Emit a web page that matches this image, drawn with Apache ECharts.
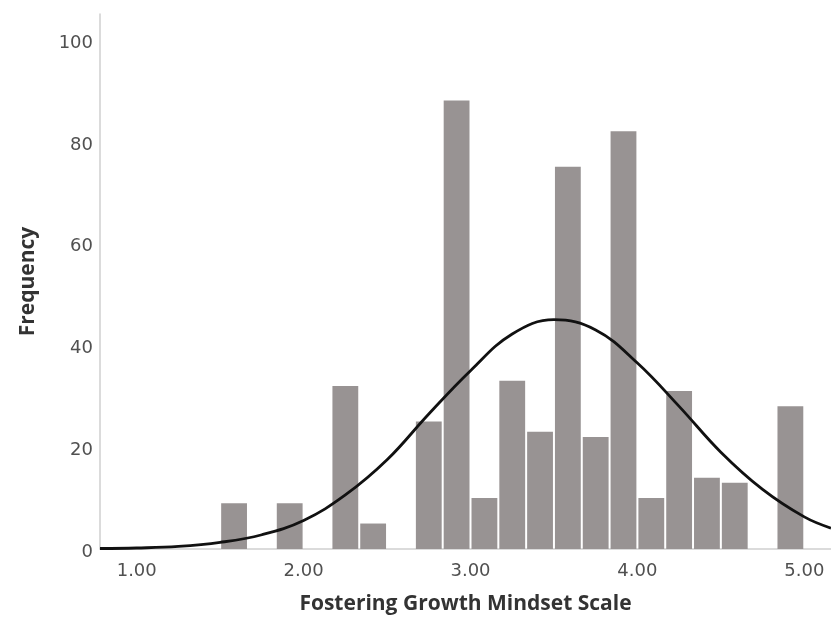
<!DOCTYPE html>
<html>
<head>
<meta charset="utf-8">
<script src="https://cdn.jsdelivr.net/npm/echarts@6/dist/echarts.min.js"></script>
<style>
  html, body { margin: 0; padding: 0; background: #ffffff; }
  #chart { width: 831px; height: 623px; }
</style>
</head>
<body>
<div id="chart"></div>
<script>
// Histogram bins: lower edge of each bin (bin width 1/6 of a scale point)
const binStarts = [1.5, 1.8333, 2.1667, 2.3333, 2.6667, 2.8333, 3.0, 3.1667, 3.3333,
                   3.5, 3.6667, 3.8333, 4.0, 4.1667, 4.3333, 4.5, 4.8333];
const binWidth = 0.16667;
const frequencies = [9, 9, 32, 5, 25, 88, 10, 33, 23, 75, 22, 82, 10, 31, 14, 13, 28];

// Fitted normal curve, sampled along the scale
const curveX = [0.78, 1.0, 1.25, 1.5, 1.75, 2.0, 2.25, 2.5, 2.75, 3.0, 3.25, 3.5,
                3.75, 4.0, 4.25, 4.5, 4.75, 5.0, 5.16];
const curveY = [0.1, 0.2, 0.5, 1.3, 2.8, 5.6, 10.6, 17.5, 26.5, 35, 42.2, 45,
                43, 36.5, 28, 19, 11.7, 6.3, 4.1];

// Axis tick labels
const xTicks = [1, 2, 3, 4, 5];
const yTicks = [0, 20, 40, 60, 80, 100];

const barData = binStarts.map((s, i) => [s, s + binWidth, frequencies[i]]);
const curveData = curveX.map((x, i) => [x, curveY[i]]);

const chart = echarts.init(document.getElementById('chart'), null, { renderer: 'canvas' });

const tickFont = { fontFamily: 'DejaVu Sans', fontSize: 18, color: '#505050' };
const titleFont = { fontFamily: 'Open Sans', fontWeight: 'bold', fontSize: 21, color: '#333333' };

chart.setOption({
  animation: false,
  backgroundColor: '#ffffff',
  grid: { left: 100, right: 0, top: 14, bottom: 74, containLabel: false },
  xAxis: {
    type: 'value',
    min: 0.78,
    max: 5.16,
    name: 'Fostering Growth Mindset Scale',
    nameLocation: 'middle',
    nameGap: 45,
    nameTextStyle: titleFont,
    axisLine: { show: true, lineStyle: { color: '#cfcfcf', width: 1.5 } },
    axisTick: { show: false },
    splitLine: { show: false },
    axisLabel: Object.assign({
      customValues: xTicks,
      formatter: v => v.toFixed(2),
      margin: 13
    }, tickFont)
  },
  yAxis: {
    type: 'value',
    min: 0,
    max: 105,
    name: 'Frequency',
    nameLocation: 'middle',
    nameGap: 61,
    nameTextStyle: titleFont,
    axisLine: { show: true, lineStyle: { color: '#cfcfcf', width: 1.5 } },
    axisTick: { show: false },
    splitLine: { show: false },
    axisLabel: Object.assign({
      customValues: yTicks,
      margin: 7,
      verticalAlign: 'top',
      lineHeight: 7
    }, tickFont)
  },
  series: [
    {
      type: 'custom',
      data: barData,
      encode: { x: [0, 1], y: 2 },
      z: 2,
      renderItem: function (params, api) {
        const p0 = api.coord([api.value(0), 0]);
        const p1 = api.coord([api.value(1), api.value(2)]);
        return {
          type: 'rect',
          shape: { x: p0[0] + 1, y: p1[1], width: p1[0] - p0[0] - 2, height: p0[1] - p1[1] },
          style: { fill: '#989393' }
        };
      }
    },
    {
      type: 'line',
      data: curveData,
      smooth: 0.4,
      showSymbol: false,
      z: 3,
      lineStyle: { color: '#111111', width: 2.8 }
    }
  ]
});
</script>
</body>
</html>
